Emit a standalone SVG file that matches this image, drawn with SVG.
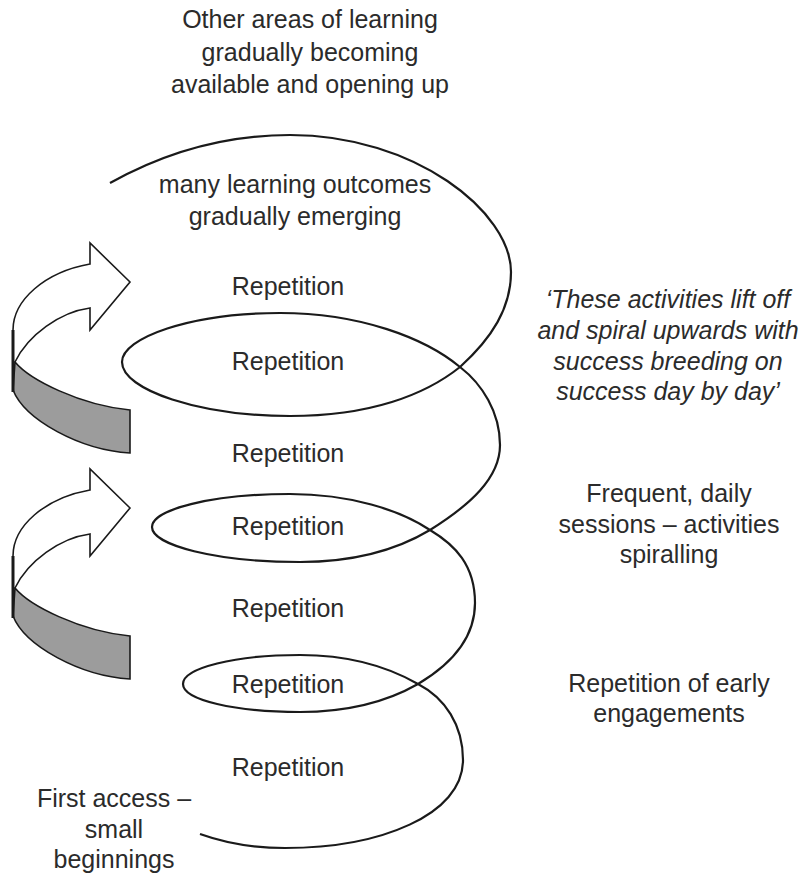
<svg xmlns="http://www.w3.org/2000/svg" xmlns:xlink="http://www.w3.org/1999/xlink" width="807" height="878" viewBox="0 0 807 878">
<style>
  text { font-family: "Liberation Sans", Arial, sans-serif; font-size: 25px; fill: #2b2b2b; text-anchor: middle; }
  .it { font-style: italic; }
  .spiral { fill: none; stroke: #1a1a1a; stroke-width: 2.2; }
  .arrowbody { fill: #ffffff; stroke: #1a1a1a; stroke-width: 1.6; stroke-linejoin: miter; }
  .ribbon { fill: #9c9c9c; stroke: #1a1a1a; stroke-width: 1.6; }
  .edge { fill: none; stroke: #1a1a1a; stroke-width: 3; }
</style>
<defs>
  <g id="turnArrow">
    <path class="ribbon" d="M15,362 C30,380 80,405 130,410 L130,453 C80,450 25,420 13,390 Z"/>
    <path class="arrowbody" d="M13,362 L13,330 C13,300 45,272 90,264 L90,243 L130,282 L90,330 L90,308 C60,312 28,335 15,362 Z"/>
    <path class="edge" d="M13,330 L13,392"/>
  </g>
</defs>
<rect width="807" height="878" fill="#ffffff"/>

<g id="connectors">
  <path class="spiral" d="M200,834 C225,843 250,848 285,848
    C380,848 463,815 463,760
    C463,725 445,698 418,684
    C385,665 345,655 300,655
    C235,655 183,668 183,684
    C183,700 235,712 300,712
    C350,712 390,700 418,684
    C450,665 475,640 475,603
    C475,565 455,545 430,530
    C400,510 350,494 290,494
    C210,494 152,510 152,527
    C152,545 215,562 300,562
    C360,562 400,548 430,530
    C470,505 500,478 500,445
    C500,412 482,384 460,367
    C425,338 360,313 280,313
    C190,313 122,338 122,362
    C122,390 200,416 290,416
    C370,416 425,395 460,367
    C492,338 511,308 511,272
    C511,212 415,135 290,135
    C220,135 160,155 110,183"/>
</g>

<g id="arrow-upper"><use xlink:href="#turnArrow" href="#turnArrow"/></g>
<g id="arrow-lower"><use xlink:href="#turnArrow" href="#turnArrow" transform="translate(0,226)"/></g>

<g id="top-label">
  <text x="310" y="28">Other areas of learning</text>
  <text x="310" y="61">gradually becoming</text>
  <text x="310" y="93">available and opening up</text>
</g>
<g id="outcomes-label">
  <text x="295" y="193">many learning outcomes</text>
  <text x="295" y="225">gradually emerging</text>
</g>
<g id="rep-1"><text x="288" y="295">Repetition</text></g>
<g id="rep-2"><text x="288" y="370">Repetition</text></g>
<g id="rep-3"><text x="288" y="462">Repetition</text></g>
<g id="rep-4"><text x="288" y="535">Repetition</text></g>
<g id="rep-5"><text x="288" y="617">Repetition</text></g>
<g id="rep-6"><text x="288" y="693">Repetition</text></g>
<g id="rep-7"><text x="288" y="776">Repetition</text></g>

<g id="quote-label">
  <text class="it" x="668" y="308">‘These activities lift off</text>
  <text class="it" x="668" y="339">and spiral upwards with</text>
  <text class="it" x="668" y="370">success breeding on</text>
  <text class="it" x="668" y="400">success day by day’</text>
</g>
<g id="frequent-label">
  <text x="669" y="502">Frequent, daily</text>
  <text x="669" y="533">sessions – activities</text>
  <text x="669" y="563">spiralling</text>
</g>
<g id="early-label">
  <text x="669" y="692">Repetition of early</text>
  <text x="669" y="722">engagements</text>
</g>
<g id="first-label">
  <text x="114" y="807">First access –</text>
  <text x="114" y="838">small</text>
  <text x="114" y="868">beginnings</text>
</g>
</svg>
